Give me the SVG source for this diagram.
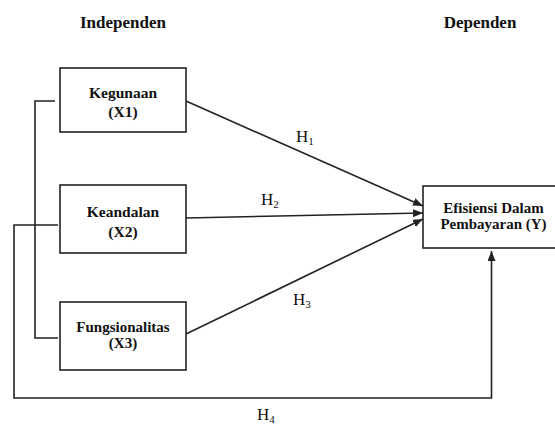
<svg xmlns="http://www.w3.org/2000/svg" width="555" height="424" viewBox="0 0 555 424">
<style>
.box{fill:#fff;stroke:#222;stroke-width:1.6}
.ln{fill:none;stroke:#222;stroke-width:1.6}
.hd{font-family:"Liberation Serif",serif;font-weight:bold;font-size:17px;fill:#111;text-anchor:middle}
.nl{font-family:"Liberation Serif",serif;font-weight:bold;font-size:15.5px;fill:#111;text-anchor:middle}
.tt{font-size:15px}
.hl{font-family:"Liberation Serif",serif;font-size:17px;fill:#111}
.sb{font-size:11px}
</style>
<defs>
<marker id="ah" markerUnits="userSpaceOnUse" markerWidth="10" markerHeight="8" refX="10" refY="4" orient="auto">
<path d="M0,0 L10,4 L0,8 Z" fill="#222"/>
</marker>
</defs>
<rect width="555" height="424" fill="#fff"/>
<text class="hd" x="123" y="28">Independen</text>
<text class="hd" x="480" y="28">Dependen</text>
<g id="connectors">
<polyline class="ln" points="55,101 35,101 35,338 58,338"/>
<polyline class="ln" points="58,225 14,225 14,398 491.5,398 491.5,251" marker-end="url(#ah)"/>
<line class="ln" x1="186" y1="101" x2="423" y2="206" marker-end="url(#ah)"/>
<line class="ln" x1="186" y1="218" x2="423" y2="213" marker-end="url(#ah)"/>
<line class="ln" x1="186" y1="334" x2="423" y2="219" marker-end="url(#ah)"/>
<text class="hl" x="296" y="142">H<tspan class="sb" dy="3">1</tspan></text>
<text class="hl" x="261" y="205">H<tspan class="sb" dy="3">2</tspan></text>
<text class="hl" x="293" y="305">H<tspan class="sb" dy="3">3</tspan></text>
<text class="hl" x="257" y="420">H<tspan class="sb" dy="3">4</tspan></text>
</g>
<g id="x1">
<rect class="box" x="60" y="68" width="126" height="64"/>
<text class="nl" x="123" y="97.5">Kegunaan</text>
<text class="nl" x="123" y="117">(X1)</text>
</g>
<g id="x2">
<rect class="box" x="60" y="185" width="126" height="68"/>
<text class="nl" x="123" y="216.5">Keandalan</text>
<text class="nl" x="123" y="236.5">(X2)</text>
</g>
<g id="x3">
<rect class="box" x="60" y="302" width="126" height="68"/>
<text class="nl tt" x="123" y="332">Fungsionalitas</text>
<text class="nl tt" x="123" y="348">(X3)</text>
</g>
<g id="y">
<rect class="box" x="423" y="186" width="140" height="62"/>
<text class="nl tt" x="493.5" y="213">Efisiensi Dalam</text>
<text class="nl tt" x="493.5" y="229">Pembayaran (Y)</text>
</g>
</svg>
